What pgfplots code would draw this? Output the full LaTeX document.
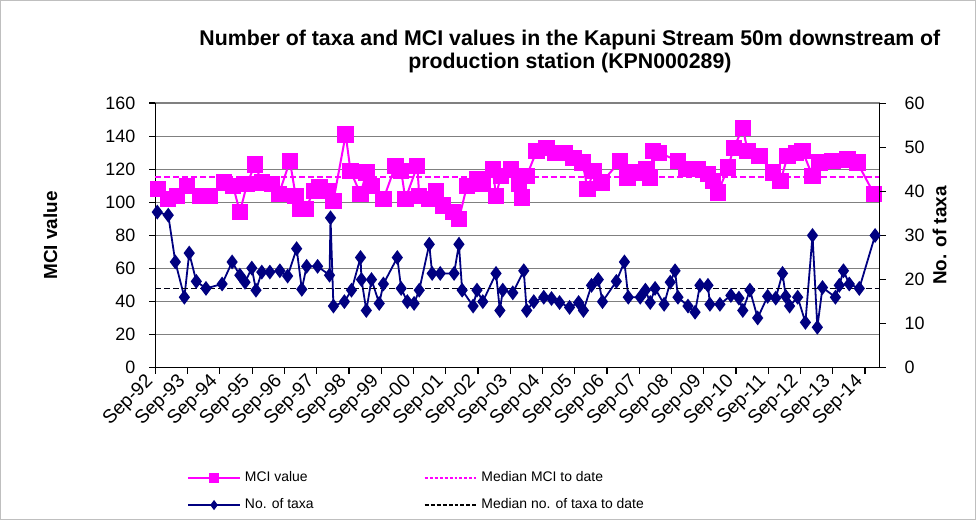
\documentclass[border=0pt]{standalone}
\usepackage{fontspec}
\setmainfont{Liberation Sans}
\usepackage{pgfplots}
\usepackage{pgfplotstable}
\pgfplotsset{compat=1.18}

\definecolor{mci}{HTML}{FF00FF}
\definecolor{taxa}{HTML}{000080}
\definecolor{gridgray}{HTML}{808080}

% x = years after Sep 1992
\pgfplotstableread{
x y
0.09 108
0.40 102
0.68 104
0.99 110
1.39 104
1.70 104
2.13 112
2.41 110
2.62 94
2.84 111
3.09 123
3.30 112
3.61 111
3.83 105
4.17 125
4.35 104
4.48 96
4.66 96
4.91 107
5.09 109
5.34 107
5.52 101
5.90 141
6.05 119
6.36 105
6.54 118
6.70 110
7.07 102
7.44 122
7.62 119
7.75 102
8.12 122
8.18 104
8.49 102
8.70 107
8.92 98
9.23 94
9.41 90
9.66 110
9.97 114
10.15 111
10.46 120
10.56 104
10.71 116
11.02 120
11.27 111
11.36 103
11.51 116
11.82 131
12.13 133
12.38 130
12.69 130
12.96 127
13.24 124
13.40 108
13.58 119
13.83 112
14.41 125
14.63 115
14.88 118
15.22 120
15.34 115
15.43 131
15.62 130
16.20 125
16.45 120
16.82 120
17.13 117
17.28 113
17.44 106
17.75 121
17.93 133
18.21 145
18.36 131
18.73 128
19.14 118
19.38 113
19.60 128
19.85 130
20.06 131
20.37 116
20.59 124
20.99 125
21.45 126
21.76 124
22.28 105
}\mcidata

\pgfplotstableread{
x y
0.06 35.3
0.40 34.6
0.62 24
0.90 16
1.05 26
1.27 19.6
1.57 18
2.07 19
2.38 24
2.62 21
2.78 19.4
2.99 22.6
3.12 17.6
3.30 21.7
3.55 21.7
3.86 22
4.10 20.8
4.38 27
4.54 17.8
4.69 23
5.03 23
5.40 21
5.43 34
5.52 14
5.86 15
6.08 17.6
6.36 25
6.39 20
6.54 13
6.70 20
6.94 14.6
7.07 19
7.50 25
7.62 18
7.81 15
8.02 14.6
8.18 17.6
8.49 28
8.58 21.4
8.83 21.4
9.26 21.4
9.41 28
9.51 17.6
9.85 14
9.97 17.6
10.15 15
10.56 21.4
10.68 13
10.77 17.6
11.08 17
11.42 22
11.51 13
11.73 15
12.04 16
12.28 15.7
12.53 14.8
12.84 13.7
13.12 14.8
13.27 13
13.52 18.7
13.73 20
13.86 15
14.29 19.6
14.54 24
14.66 16
15.03 16
15.19 17.6
15.34 14.8
15.49 18
15.77 14.4
15.96 19.4
16.11 22
16.20 16
16.51 14
16.73 12.6
16.88 18.7
17.13 18.7
17.19 14.4
17.50 14.4
17.84 16.4
18.09 15.8
18.21 13
18.43 17.6
18.67 11.3
18.98 16.2
19.23 15.8
19.44 21.4
19.54 16.2
19.66 14
19.91 16
20.15 10.3
20.37 30
20.52 9.2
20.68 18.2
21.08 16
21.20 18.7
21.33 22
21.51 19
21.82 18
22.31 30
}\taxadata

\pgfplotsset{
  kpn/.style={
    width=362.5bp, height=132.5bp, scale only axis,
    at={(77.5bp,76.15bp)}, anchor=south west,
    xmin=0, xmax=22.45,
    clip=false,
    tick align=outside, major tick length=3bp,
    axis line style={black, line width=0.6bp},
    tick style={black, line width=0.6bp},
    ticklabel style={font=\fontsize{9}{10}\selectfont},
    /pgf/number format/assume math mode=true,
    label style={font=\bfseries\fontsize{9.5}{11}\selectfont},
  }
}

\begin{document}
\begin{tikzpicture}
\draw[gray!50, line width=0.5bp, use as bounding box] (0,0) rectangle (488bp,260bp);

\node[font=\bfseries\fontsize{10.7}{11.5}\selectfont, align=center] at (285bp,234.5bp)
  {Number of taxa and MCI values in the Kapuni Stream 50m downstream of\\production station (KPN000289)};

\begin{axis}[kpn,
  ymin=0, ymax=160, ytick={0,20,...,160},
  axis x line*=bottom, axis y line*=left,
  ymajorgrids, grid style={gridgray, line width=0.6bp},
  xtick={0,...,22},
  xticklabels={Sep-92,Sep-93,Sep-94,Sep-95,Sep-96,Sep-97,Sep-98,Sep-99,Sep-00,Sep-01,Sep-02,Sep-03,Sep-04,Sep-05,Sep-06,Sep-07,Sep-08,Sep-09,Sep-10,Sep-11,Sep-12,Sep-13,Sep-14},
  x tick label style={rotate=45, anchor=east, font=\fontsize{9.6}{10}\selectfont},
  y tick label style={xshift=-3.5bp},
  ylabel={MCI value},
  ylabel style={at={(axis description cs:-0.145,0.5)}, anchor=center},
]
\addplot[mci, line width=1bp, mark=square*, mark size=3.6bp] table {\mcidata};
\addplot[mci, line width=0.9bp, dash pattern=on 3bp off 1.5bp] coordinates {(0,115.5) (22.45,115.5)};
\end{axis}

\begin{axis}[kpn,
  ymin=0, ymax=60, ytick={0,10,...,60},
  axis y line*=right, axis x line=none,
  y tick label style={xshift=6bp},
  ylabel={No. of taxa},
  ylabel style={at={(axis description cs:1.083,0.5)}, anchor=center, rotate=0},
  legend columns=2, legend cell align=left,
  legend style={draw=none, fill=none,
    at={(axis description cs:0.035,-0.36)}, anchor=north west,
    font=\fontsize{7}{8}\selectfont,
    /tikz/every even column/.append style={column sep=53bp},
    row sep=3bp},
  legend image code/.code={\draw[mark repeat=2, mark phase=2, #1] plot coordinates {(0bp,0bp) (13bp,0bp) (26bp,0bp)};},
]
\addlegendimage{mci, line width=1bp, mark=square*, mark size=2bp}
\addlegendentry{MCI value}
\addlegendimage{mci, line width=1bp, dash pattern=on 1.5bp off 1bp}
\addlegendentry{Median MCI to date}
\addlegendimage{taxa, line width=0.9bp, mark=diamond*, mark size=1.8bp}
\addlegendentry{No. of taxa}
\addlegendimage{black, line width=0.9bp, dash pattern=on 2bp off 1bp}
\addlegendentry{Median no. of taxa to date}

\addplot[taxa, line width=0.9bp, mark=diamond*, mark size=3bp, forget plot] table {\taxadata};
\addplot[black!85!taxa, line width=0.9bp, dash pattern=on 3bp off 1.5bp, forget plot] coordinates {(0,18) (22.45,18)};
\end{axis}
\end{tikzpicture}
\end{document}
